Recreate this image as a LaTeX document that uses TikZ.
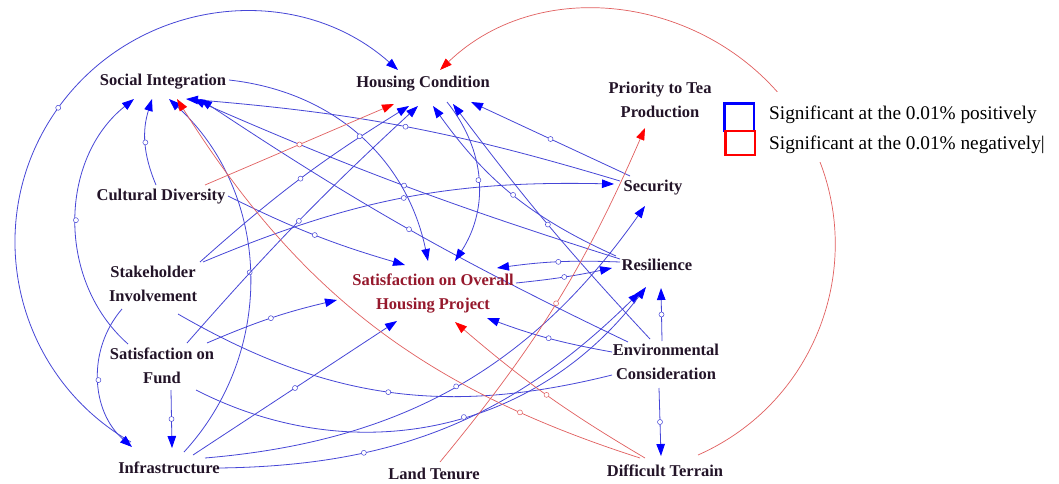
\documentclass[tikz,border=0pt]{standalone}
\usepackage{fontspec}
\setmainfont{Liberation Serif}
\usetikzlibrary{arrows.meta,calc}
\definecolor{bluel}{RGB}{70,70,215}
\definecolor{redl}{RGB}{225,95,95}
\definecolor{labc}{RGB}{35,20,40}
\definecolor{soc}{RGB}{150,25,45}
\newcommand\lblfont{\fontsize{16.5}{24}\selectfont\bfseries}
\newcommand\legfont{\fontsize{19.3}{22}\selectfont}
\pgfdeclarelayer{edges}
\pgfsetlayers{edges,main}
\tikzset{
  bl/.style={draw=bluel,line width=0.8pt,-{Triangle[length=12pt,width=8.5pt,color=blue]}},
  bn/.style={draw=bluel,line width=0.8pt},
  rl/.style={draw=redl,line width=0.7pt,-{Triangle[length=12pt,width=8.5pt,color=red]}},
  hd/.style={circle,draw=bluel,fill=white,inner sep=0pt,minimum size=5pt,line width=0.5pt},
  hdr/.style={hd,draw=redl},
  lab/.style={font=\lblfont,text=labc,align=center,inner sep=1pt}
}
\begin{document}
\begin{tikzpicture}[x=1pt,y=-1pt]
\useasboundingbox (0,0) rectangle (1059,484);
% labels
\node[lab] (SI) at (163,82) {Social Integration};
\node[lab] (HC) at (423,84) {Housing Condition};
\node[lab] (PT) at (660,100) {Priority to Tea\\Production};
\node[lab] (CD) at (161,197) {Cultural Diversity};
\node[lab] (SEC) at (653,188) {Security};
\node[lab] (SH) at (153,284) {Stakeholder\\Involvement};
\node[lab,text=soc] (SO) at (433,294) {Satisfaction on Overall\\Housing Project};
\node[lab] (RES) at (657,265) {Resilience};
\node[lab] (SF) at (162,366) {Satisfaction on\\Fund};
\node[lab] (ENV) at (666,362) {Environmental\\Consideration};
\node[lab] (INF) at (169,468) {Infrastructure};
\node[lab] (LT) at (434,474) {Land Tenure};
\node[lab] (DT) at (665,471) {Difficult Terrain};
\begin{pgfonlayer}{edges}
\fill[white] (0,0) rectangle (1059,484);
% blue connectors
\draw[bl] ($(INF)+(-38,-26)$) .. controls (12.4,374.2) and (-21.4,218.6) .. (58.2,107.8) node[hd]{} .. controls (137.8,-3) and (296.1,-20.5) .. ($(HC)+(-25,-14)$);
\draw[bl] ($(SF)+(-34,-22)$) to[bend left=50] node[hd]{} ($(SI)+(-29,17)$);
\draw[bl] ($(CD)+(-5,-12)$) to[bend left=20] node[hd]{} ($(SI)+(-11,17)$);
\draw[bl] ($(INF)+(15,-16)$) to[bend right=45] node[hd]{} ($(SI)+(6,17)$);
\draw[bl] ($(SEC)+(-33,-7)$) to[bend right=6] node[hd]{} ($(SI)+(23,17)$);
\draw[bl] ($(RES)+(-37,-6)$) to[bend left=3] node[hd]{} ($(SI)+(30,17)$);
\draw[bl] ($(ENV)+(-38,-20)$) to[bend left=4] node[hd]{} ($(SI)+(37,17)$);
\draw[bl] ($(SH)+(47,-22)$) to[bend left=5] node[hd]{} ($(HC)+(-14,22)$);
\draw[bl] ($(SF)+(25,-23)$) to[bend left=3] node[hd]{} ($(HC)+(-5,22)$);
\draw[bl] ($(RES)+(-41,-9)$) to[bend left=15] node[hd]{} ($(HC)+(10,22)$);
\draw[bl] ($(ENV)+(-16,-23)$) to[bend left=3] node[hd]{} ($(HC)+(30,20)$);
\draw[bl] ($(SEC)+(-23,-12)$) to node[hd]{} ($(HC)+(48,18)$);
\draw[bl] ($(CD)+(67,-1)$) to[bend right=5] node[hd]{} ($(SO)+(-28,-29)$);
\draw[bl] ($(SI)+(66,-2)$) to[bend left=36] node[hd]{} ($(SO)+(-5,-33)$);
\draw[bl] ($(HC)+(24,18)$) to[bend left=36] node[hd]{} ($(SO)+(22,-33)$);
\draw[bl] ($(SF)+(45,-23)$) to[bend left=5] node[hd]{} ($(SO)+(-96,6)$);
\draw[bl] ($(INF)+(24,-13)$) to node[hd]{} ($(SO)+(-36,27)$);
\draw[bl] ($(ENV)+(-54,-10)$) to[bend left=5] node[hd]{} ($(SO)+(54,24)$);
\draw[bl] ($(RES)+(-37,-3)$) to[bend right=5] node[hd]{} ($(SO)+(64,-26)$);
\draw[bl] ($(SO)+(83,-11)$) to[bend right=3] node[hd]{} ($(RES)+(-45,3)$);
\draw[bl] ($(ENV)+(-4,-21)$) to node[hd]{} ($(RES)+(4,23)$);
\draw[bl] ($(INF)+(49,0)$) to[bend right=22] node[hd,pos=.3]{} ($(RES)+(-17,27)$);
\draw[bl] ($(SF)+(34,24)$) to[bend right=40] node[hd,pos=.55]{} ($(RES)+(-11,22)$);
\draw[bn] ($(SH)+(25,30)$) to[bend right=22] node[hd]{} ($(ENV)+(-54,13)$);
\draw[bl] ($(SH)+(-31,25)$) to[bend right=45] node[hd]{} ($(INF)+(-37,-21)$);
\draw[bl] ($(SF)+(9,24)$) to node[hd]{} ($(INF)+(3,-20)$);
\draw[bl] ($(SH)+(50,-22)$) to[bend left=12] node[hd]{} ($(SEC)+(-39,-4)$);
\draw[bl] ($(INF)+(36,-10)$) to[bend right=25] node[hd]{} ($(SEC)+(-8,18)$);
\draw[bl] ($(ENV)+(-7,26)$) to node[hd]{} ($(DT)+(-4,-15)$);
% red connectors
\draw[rl] ($(DT)+(33,-16)$) .. controls (829,397) and (876,235) .. (796,116) .. controls (716,-2) and (543,-29) .. ($(HC)+(17,-14)$);
\draw[rl] ($(DT)+(-25,-13)$) to[bend left=20] node[hdr,pos=.2]{} ($(SI)+(14,17)$);
\draw[rl] ($(DT)+(-20,-13)$) to[bend left=5] node[hdr]{} ($(SO)+(22,28)$);
\draw[rl] ($(LT)+(6,-12)$) to[bend right=8] node[hdr]{} ($(PT)+(-15,28)$);
\draw[rl] ($(CD)+(44,-12)$) to node[hdr]{} ($(HC)+(-29,20)$);
\end{pgfonlayer}
% legend
\fill[white] (758,92) rectangle (1054,162);
\draw[blue,line width=2.8pt] (724.5,103.5) rectangle (754,131);
\draw[red,line width=2.8pt] (725.5,131) rectangle (755,155);
\node[anchor=west,font=\legfont,inner sep=0pt] (L1) at (769,115) {Significant at the 0.01\% positively};
\node[anchor=west,font=\legfont,inner sep=0pt] (L2) at (769,145) {Significant at the 0.01\% negatively|};
\end{tikzpicture}
\end{document}
